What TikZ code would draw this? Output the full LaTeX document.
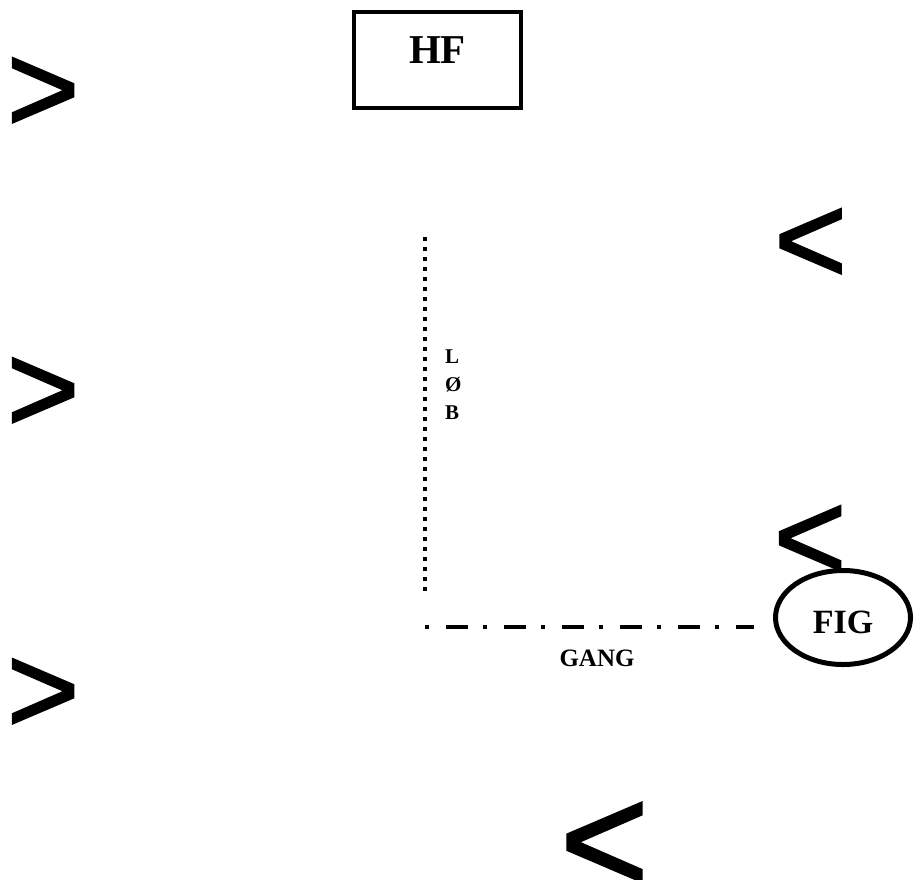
\documentclass[tikz,border=0pt]{standalone}
\usepackage{fontspec}
\setmainfont{Liberation Serif}
\newfontface\chevfont{Liberation Sans}[FakeBold=1.6]
\usetikzlibrary{shapes.geometric}
\begin{document}
\begin{tikzpicture}[x=1pt,y=-1pt,
  chevron/.style={font=\chevfont\fontsize{127}{127}\selectfont, inner sep=0pt, xscale=0.98},
  bigchevron/.style={font=\chevfont\fontsize{155}{155}\selectfont, inner sep=0pt, xscale=0.98},
  lbl/.style={font=\bfseries\fontsize{21}{28}\selectfont, inner sep=0pt},
  ganglbl/.style={font=\bfseries\fontsize{25}{25}\selectfont, inner sep=0pt},
  hfbox/.style={draw, line width=4pt, minimum width=167pt, minimum height=96pt, inner sep=0pt,
    font=\bfseries\fontsize{41}{41}\selectfont, text height=20pt, text depth=14pt},
  figell/.style={draw, ellipse, line width=5pt, minimum width=135pt, minimum height=94pt, inner sep=0pt,
    font=\bfseries\fontsize{34}{34}\selectfont, text height=31pt, text depth=0pt},
  dotline/.style={line width=4.5pt, dash pattern=on 4pt off 6pt},
  dashdotline/.style={line width=4.5pt, dash pattern=on 4pt off 17pt on 22pt off 15pt}
]
\useasboundingbox (0,0) rectangle (915,879);
\node[hfbox] (hf) at (437.5,60) {HF};
\node[chevron] (g1) at (43,95) {>};
\node[chevron] (g2) at (43,395) {>};
\node[chevron] (g3) at (43,696) {>};
\node[chevron] (l1) at (810.5,246) {<};
\node[chevron] (l2) at (810,543) {<};
\node[bigchevron] (l3) at (604.5,848) {<};
\node[figell] (fig) at (843,617.5) {FIG};
\coordinate (lobtop) at (425,237);
\coordinate (lobbot) at (425,593);
\draw[dotline] (lobtop) -- (lobbot);
\coordinate (gangstart) at (425,627);
\coordinate (gangend) at (754,627);
\draw[dashdotline] (gangstart) -- (gangend);
\node[lbl, anchor=north west, align=left] (lob) at (445,350) {L\\Ø\\B};
\node[ganglbl] (gang) at (597,658) {GANG};
\end{tikzpicture}
\end{document}
